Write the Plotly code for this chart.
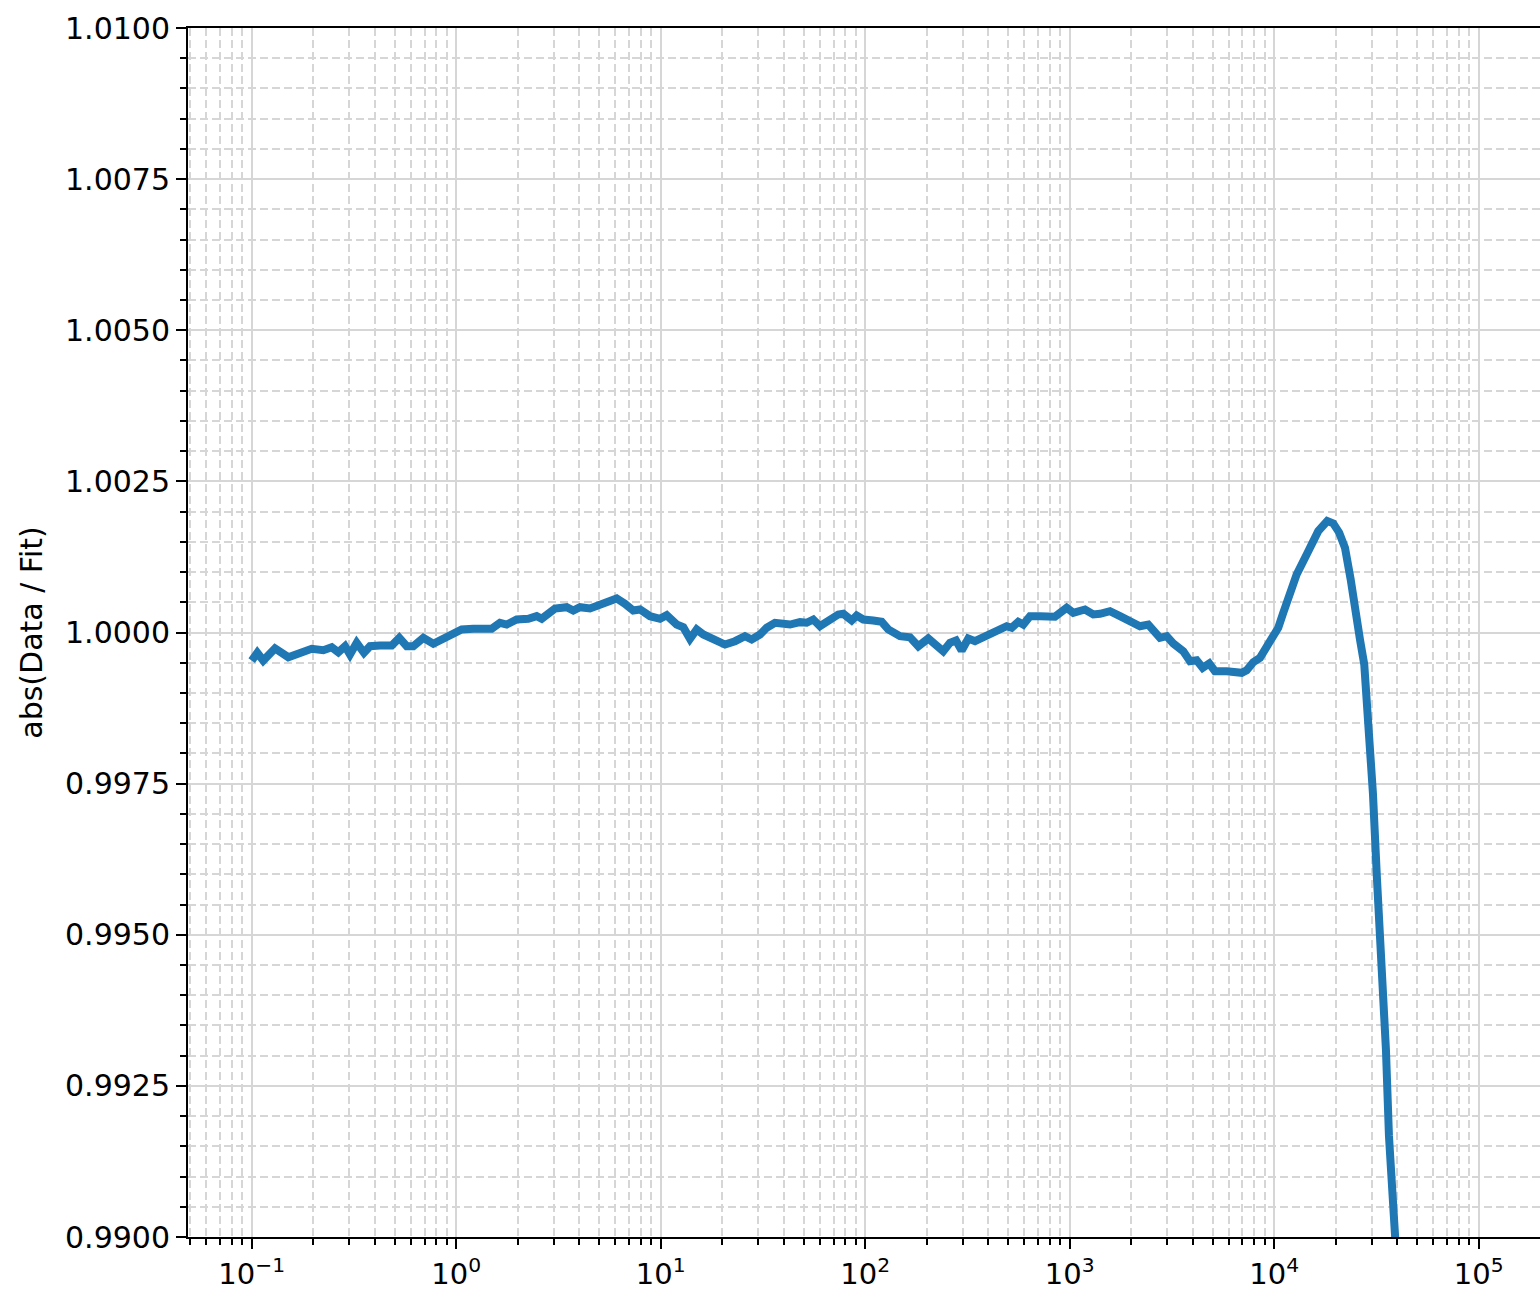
import plotly.graph_objects as go

# Data
x_vals = [
    0.1, 0.1065, 0.1139, 0.1300, 0.1510, 0.1690, 0.1965, 0.2240, 0.2462, 0.2652,
    0.2860, 0.3024, 0.3262, 0.3540, 0.3789, 0.4241, 0.4838, 0.5270, 0.5728, 0.6169,
    0.6905, 0.7727, 0.8985, 0.9678, 1.064, 1.212, 1.357, 1.491, 1.637, 1.766,
    1.976, 2.252, 2.475, 2.619, 3.042, 3.470, 3.737, 4.031, 4.511, 5.049,
    5.543, 6.094, 6.690, 7.345, 7.922, 8.867, 9.922, 10.70, 11.97, 12.90,
    13.91, 15.00, 16.16, 17.42, 18.78, 20.63, 23.09, 25.84, 27.86, 30.59,
    32.99, 36.22, 42.89, 48.0, 51.74, 55.74, 60.12, 67.29, 73.88, 78.15,
    85.9, 90.86, 97.9, 109.5, 120.4, 129.7, 148.0, 165.6, 181.9, 203.5,
    223.7, 240.9, 259.8, 278.0, 296.4, 319.4, 344.4, 385.3, 423.1, 456.2,
    491.9, 520.5, 560.6, 593.1, 639.6, 715.8, 801.0, 847.3, 966.7, 1041.4,
    1188, 1305, 1407, 1574, 1762, 1972, 2207, 2423, 2765, 2982,
    3211, 3594, 3876, 4178, 4472, 4815, 5135, 5857, 6937, 7338,
    7904, 8522, 9189, 9899, 10470, 11080, 11950, 12880, 14420, 16430,
    18190, 19450, 20810, 22200, 23670, 24370, 26280, 27580, 28340, 29650,
    30420, 31820, 33550, 35210, 36420, 38970, 40310,
]
y_vals = [
    0.999536, 0.999664, 0.999536, 0.999735, 0.999591, 0.999664, 0.999730, 0.999707, 0.999757, 0.999674,
    0.999773, 0.999636, 0.999829, 0.999664, 0.999773, 0.999785, 0.999785, 0.999912, 0.999773, 0.999773,
    0.999912, 0.999813, 0.999912, 0.999967, 1.000050, 1.000061, 1.000078, 1.000061, 1.000161, 1.000132,
    1.000215, 1.000227, 1.000270, 1.000227, 1.000397, 1.000419, 1.000364, 1.000419, 1.000397, 1.000464,
    1.000492, 1.000563, 1.000475, 1.000364, 1.000381, 1.000270, 1.000227, 1.000286, 1.000132, 1.000088,
    0.999896, 1.000050, 0.999967, 0.999922, 0.999884, 0.999801, 0.999856, 0.999939, 0.999884, 0.999967,
    1.000078, 1.000161, 1.000132, 1.000171, 1.000161, 1.000215, 1.000104, 1.000215, 1.000298, 1.000310,
    1.000199, 1.000281, 1.000215, 1.000199, 1.000177, 1.000050, 0.999939, 0.999922, 0.999773, 0.999901,
    0.999801, 0.999690, 0.999829, 0.999868, 0.999702, 0.999901, 0.999856, 0.999939, 1.000022, 1.000050,
    1.000104, 1.000078, 1.000177, 1.000132, 1.000270, 1.000270, 1.000243, 1.000260, 1.000409, 1.000326,
    1.000381, 1.000298, 1.000310, 1.000353, 1.000270, 1.000187, 1.000104, 1.000132, 0.999912, 0.999939,
    0.999818, 0.999690, 0.999525, 0.999541, 0.999416, 0.999487, 0.999359, 0.999359, 0.999333, 0.999376,
    0.999508, 0.999581, 0.999773, 0.999995, 1.000078, 1.000326, 1.000684, 1.000960, 1.001291, 1.001677,
    1.001843, 1.001805, 1.001651, 1.001402, 1.000877, 1.000546, 0.999884, 0.999470, 0.998940, 0.998046,
    0.997334, 0.995927, 0.994503, 0.993096, 0.991672, 0.989983, 0.989238,
]

x_tick_vals = [0.1, 1, 10, 100, 1000, 10000, 100000]
x_tick_text = ["10<sup>\u22121</sup>", "10<sup>0</sup>", "10<sup>1</sup>", "10<sup>2</sup>",
               "10<sup>3</sup>", "10<sup>4</sup>", "10<sup>5</sup>"]
y_tick_vals = [0.99, 0.9925, 0.995, 0.9975, 1.0, 1.0025, 1.005, 1.0075, 1.01]
y_title = "abs(Data / Fit)"

FONT = "DejaVu Sans"
GRID = "#d6d6d6"
MINOR_GRID = "#d6d6d6"
MINOR_DASH = "8px,4px"

fig = go.Figure()
fig.add_trace(go.Scatter(
    x=x_vals, y=y_vals, mode="lines",
    line=dict(color="#1f77b4", width=8),
    showlegend=False,
))

fig.update_layout(
    width=1540, height=1292,
    margin=dict(l=188, r=0, t=28, b=55),
    paper_bgcolor="white", plot_bgcolor="white",
    font=dict(family=FONT, size=30, color="black"),
)

fig.update_xaxes(
    type="log",
    range=[-1.3115, 5.300],
    tickmode="array", tickvals=x_tick_vals, ticktext=x_tick_text,
    ticks="outside", ticklen=10, tickwidth=2, tickcolor="black",
    tickfont=dict(family=FONT, size=29, color="black"),
    showline=True, linecolor="black", linewidth=2, mirror=True,
    showgrid=True, gridcolor=GRID, gridwidth=2,
    zeroline=False,
    minor=dict(dtick="D1", ticks="outside", ticklen=6, tickwidth=1.6, tickcolor="black",
               showgrid=True, gridcolor=MINOR_GRID, gridwidth=1.8, griddash=MINOR_DASH),
)

fig.update_yaxes(
    range=[0.99, 1.01],
    tickmode="array", tickvals=y_tick_vals, tickformat=".4f",
    ticks="outside", ticklen=10, tickwidth=2, tickcolor="black",
    tickfont=dict(family=FONT, size=30, color="black"),
    showline=True, linecolor="black", linewidth=2, mirror=False,
    showgrid=True, gridcolor=GRID, gridwidth=2,
    zeroline=False,
    minor=dict(dtick=0.0005, tick0=0.99, ticks="outside", ticklen=6, tickwidth=1.6, tickcolor="black",
               showgrid=True, gridcolor=MINOR_GRID, gridwidth=1.8, griddash=MINOR_DASH),
    title=dict(text=y_title, font=dict(family=FONT, size=30, color="black"), standoff=14),
)

fig.write_html(
    "out.html",
    config={"displayModeBar": False},
    post_script="document.body.style.margin='0';document.body.style.overflow='hidden';",
)
